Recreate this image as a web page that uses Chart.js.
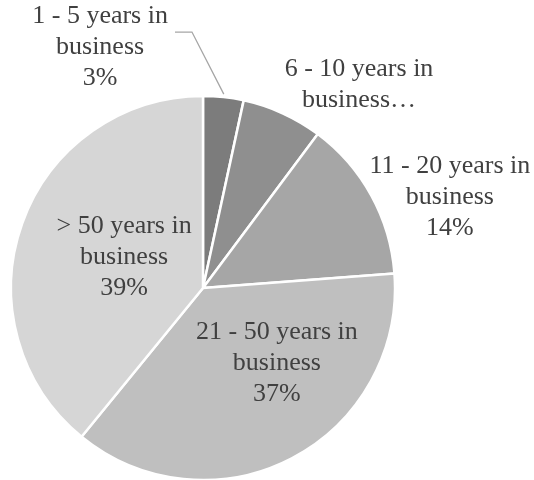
<!DOCTYPE html>
<html lang="en">
<head>
    <meta charset="UTF-8">
    <title>Years in business</title>
    <script src="https://cdn.jsdelivr.net/npm/chart.js"></script>
    <style>
        body {
            margin: 0;
            background-color: #fff;
        }
        #pieChart {
            display: block;
        }
    </style>
</head>
<body>
    <canvas id="pieChart" width="534" height="480"></canvas>

    <script>
        // data
        const categories = ['1 - 5 years in business', '6 - 10 years in business', '11 - 20 years in business', '21 - 50 years in business', '> 50 years in business'];
        const shares = [3.4, 6.8, 13.6, 37.1, 39.1];
        const sliceColors = ['#7c7c7c', '#8f8f8f', '#a6a6a6', '#bfbfbf', '#d6d6d6'];

        // label placement, in units of the pie radius from its centre
        const labelOffsets = [[-0.536, -1.255], [0.8125, -1.057], [1.286, -0.474], [0.385, 0.391], [-0.411, -0.161]];
        const truncated = [false, true, false, false, false];

        function labelLines(i) {
            const name = categories[i];
            const cut = name.indexOf(' business');
            const lines = [name.slice(0, cut), 'business'];
            if (truncated[i]) {
                lines[1] = 'business\u2026';
                return lines;
            }
            lines.push(Math.round(shares[i]) + '%');
            return lines;
        }

        const pieLabels = {
            id: 'pieLabels',
            afterDatasetsDraw(chart) {
                const ctx = chart.ctx;
                const arcs = chart.getDatasetMeta(0).data;
                const lineH = 31;
                ctx.save();
                ctx.font = '26px "Liberation Serif", "Times New Roman", serif';
                ctx.fillStyle = '#404040';
                ctx.textAlign = 'center';
                ctx.textBaseline = 'middle';
                arcs.forEach((arc, i) => {
                    const r = arc.outerRadius;
                    const lx = arc.x + labelOffsets[i][0] * r;
                    const ly = arc.y + labelOffsets[i][1] * r;
                    const lines = labelLines(i);
                    lines.forEach((t, k) => {
                        ctx.fillText(t, lx, ly + (k - (lines.length - 1) / 2) * lineH);
                    });
                    // leader line for the label sitting outside the pie
                    if (i === 0) {
                        const w = ctx.measureText(lines[0]).width;
                        const y0 = ly - lineH + 16;
                        const mid = (arc.startAngle + arc.endAngle) / 2;
                        ctx.beginPath();
                        ctx.strokeStyle = '#a6a6a6';
                        ctx.lineWidth = 1.3;
                        ctx.moveTo(lx + w / 2 + 7, y0);
                        ctx.lineTo(lx + w / 2 + 24, y0);
                        ctx.lineTo(arc.x + Math.cos(mid) * (r + 3), arc.y + Math.sin(mid) * (r + 3));
                        ctx.stroke();
                    }
                });
                ctx.restore();
            }
        };

        const ctx = document.getElementById('pieChart').getContext('2d');
        new Chart(ctx, {
            type: 'pie',
            data: {
                labels: categories,
                datasets: [{
                    data: shares,
                    backgroundColor: sliceColors,
                    borderColor: '#ffffff',
                    borderWidth: 2.5
                }]
            },
            options: {
                responsive: false,
                animation: false,
                radius: 192,
                layout: {
                    padding: { left: 11, right: 139, top: 96, bottom: 0 }
                },
                plugins: {
                    legend: { display: false },
                    tooltip: { enabled: false }
                }
            },
            plugins: [pieLabels]
        });
    </script>
</body>
</html>
